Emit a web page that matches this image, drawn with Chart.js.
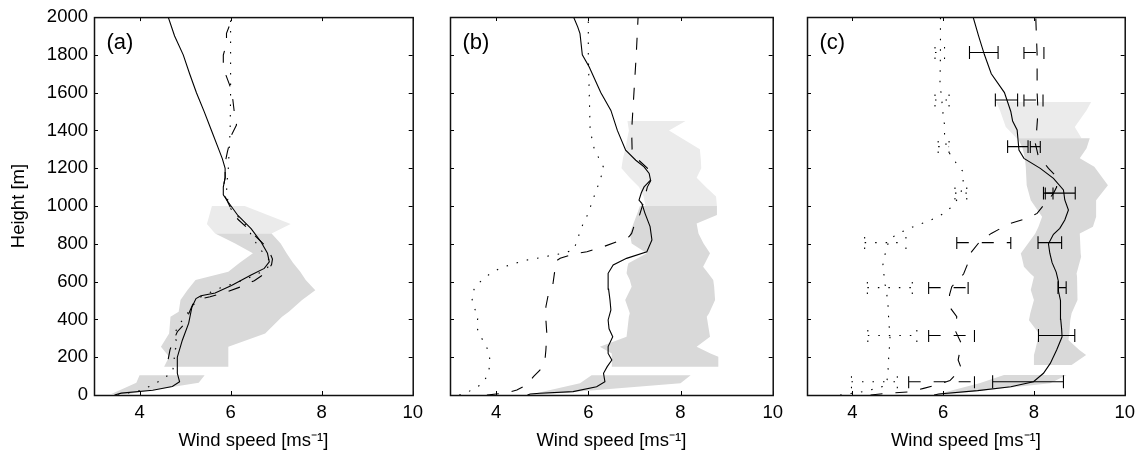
<!DOCTYPE html>
<html>
<head>
<meta charset="utf-8">
<script src="https://cdn.jsdelivr.net/npm/chart.js@4.4.0/dist/chart.umd.min.js"></script>
<style>
  html, body { margin: 0; padding: 0; background: #fff; }
  #wrap { position: relative; width: 1142px; height: 452px; }
  #wrap canvas { position: absolute; top: 0; }
</style>
</head>
<body>
<div id="wrap">
  <canvas id="pa" width="430" height="452" style="left:0px"></canvas>
  <canvas id="pb" width="360" height="452" style="left:430px"></canvas>
  <canvas id="pc" width="352" height="452" style="left:790px"></canvas>
</div>
<script>
// axes
const xTicks = [4, 6, 8, 10];
const yTicks = [0, 200, 400, 600, 800, 1000, 1200, 1400, 1600, 1800, 2000];

// ---- panel (a) ----
const aSolidH = [0, 10, 25, 45, 70, 115, 200, 290, 380, 465, 510, 525, 540, 580, 635, 670, 705, 750, 810, 880, 950, 1020, 1060, 1100, 1150, 1200, 1250, 1300, 1400, 1500, 1600, 1700, 1800, 1900, 2000];
const aSolidV = [3.45, 3.6, 4.29, 4.72, 4.88, 4.83, 4.83, 4.94, 5.08, 5.15, 5.24, 5.35, 5.66, 6.02, 6.45, 6.74, 6.85, 6.81, 6.67, 6.45, 6.16, 5.95, 5.84, 5.84, 5.88, 5.88, 5.82, 5.74, 5.58, 5.42, 5.25, 5.10, 4.96, 4.77, 4.63];
const aDotH = [0, 20, 50, 80, 120, 180, 230, 265, 310, 360, 405, 485, 520, 560, 590, 610, 630, 660, 700, 750, 800, 900, 1000, 1100, 1200, 1400, 1600, 1800, 2000];
const aDotV = [3.52, 3.96, 4.26, 4.48, 4.72, 4.77, 4.74, 4.86, 4.76, 4.83, 4.97, 5.21, 5.35, 5.70, 6.06, 6.31, 6.49, 6.76, 6.90, 6.72, 6.57, 6.33, 5.95, 5.91, 5.95, 5.99, 6.0, 6.0, 6.0];
const aDashH = [190, 240, 290, 335, 380, 430, 480, 505, 520, 540, 575, 605, 650, 690, 720, 760, 800, 840, 890, 930, 1000, 1060, 1100, 1150, 1230, 1287, 1376, 1429, 1499, 1561, 1640, 1729, 1799, 1861, 1914, 1970, 2000];
const aDashV = [4.63, 4.67, 4.75, 4.83, 5.0, 5.08, 5.17, 5.26, 5.55, 5.85, 6.25, 6.52, 6.8, 6.9, 6.92, 6.85, 6.72, 6.55, 6.34, 6.16, 5.98, 5.86, 5.84, 5.88, 5.88, 5.93, 6.02, 6.13, 6.08, 6.05, 5.98, 5.84, 5.84, 5.91, 5.91, 6.0, 6.0];
const aLowH = [5, 65, 105];
const aLowLo = [3.38, 3.93, 4.0];
const aLowHi = [3.75, 5.30, 5.43];
const aMidH = [150, 203, 256, 326, 414, 441, 503, 555, 608, 652, 700, 750, 802, 855];
const aMidLo = [4.54, 4.65, 4.47, 4.65, 4.68, 4.86, 4.90, 5.05, 5.23, 5.95, 6.2, 6.49, 6.1, 5.66];
const aMidHi = [5.95, 5.95, 5.95, 6.76, 7.13, 7.28, 7.57, 7.86, 7.65, 7.53, 7.37, 7.23, 7.10, 6.9];
const aTopH = [855, 905, 1000];
const aTopLo = [5.66, 5.48, 5.59];
const aTopHi = [6.9, 7.32, 6.31];

// ---- panel (b) ----
const bSolidH = [0, 5, 9, 18, 44, 70, 115, 150, 185, 220, 256, 308, 350, 397, 450, 503, 560, 644, 688, 723, 758, 820, 891, 961, 1014, 1031, 1070, 1101, 1137, 1172, 1207, 1242, 1295, 1400, 1506, 1600, 1735, 1800, 1912, 1948, 2000];
const bSolidV = [4.68, 4.74, 4.95, 5.67, 6.18, 6.36, 6.33, 6.41, 6.51, 6.43, 6.43, 6.53, 6.45, 6.43, 6.49, 6.47, 6.44, 6.43, 6.54, 6.83, 7.27, 7.38, 7.34, 7.23, 7.16, 7.10, 7.15, 7.21, 7.35, 7.32, 7.21, 7.03, 6.81, 6.63, 6.49, 6.27, 6.02, 5.87, 5.82, 5.77, 5.68];
const bDotH = [0, 12, 62, 115, 168, 220, 273, 317, 361, 423, 467, 520, 573, 614, 647, 670, 688, 705, 718, 728, 741, 750, 767, 811, 864, 908, 961, 1014, 1100, 1200, 1300, 1400, 1600, 1800, 2000];
const bDotV = [3.2, 3.36, 3.72, 3.83, 3.87, 3.85, 3.76, 3.64, 3.58, 3.61, 3.51, 3.47, 3.54, 3.72, 3.90, 4.08, 4.30, 4.52, 4.74, 4.99, 5.24, 5.46, 5.68, 5.75, 5.82, 5.89, 6.0, 6.07, 6.20, 6.34, 6.13, 6.04, 6.02, 6.0, 6.0];
const bDashH = [0, 5, 12, 26, 53, 97, 132, 185, 238, 326, 397, 467, 529, 582, 670, 705, 723, 746, 758, 785, 811, 837, 855, 908, 943, 1031, 1100, 1150, 1200, 1250, 1300, 1400, 1600, 1800, 2000];
const bDashV = [3.80, 4.0, 4.23, 4.45, 4.66, 4.81, 4.95, 5.06, 5.08, 5.10, 5.08, 5.08, 5.13, 5.23, 5.28, 5.28, 5.39, 5.67, 5.97, 6.33, 6.62, 6.88, 6.94, 7.01, 7.10, 7.21, 7.28, 7.39, 7.28, 7.06, 6.95, 6.94, 6.99, 7.04, 7.08];
const bLowH = [0, 62, 105];
const bLowLo = [4.7, 5.82, 6.07];
const bLowHi = [4.85, 8.0, 8.22];
const bMidH = [150, 203, 220, 255, 308, 414, 432, 503, 573, 608, 644, 679, 697, 750, 802, 855, 908, 952, 1000];
const bMidLo = [6.51, 6.51, 6.51, 6.25, 6.83, 6.88, 6.90, 6.80, 6.94, 6.90, 6.83, 6.85, 6.87, 7.27, 6.94, 6.90, 6.98, 7.05, 7.12];
const bMidHi = [8.82, 8.82, 8.65, 8.35, 8.64, 8.57, 8.62, 8.75, 8.73, 8.71, 8.6, 8.49, 8.53, 8.64, 8.5, 8.39, 8.35, 8.79, 8.79];
const bTopH = [1000, 1050, 1100, 1150, 1200, 1250, 1300, 1400, 1450];
const bTopLo = [7.24, 7.2, 7.1, 6.9, 6.72, 6.75, 6.80, 6.88, 6.85];
const bTopHi = [8.79, 8.77, 8.55, 8.35, 8.45, 8.44, 8.42, 7.75, 8.11];

// ---- panel (c) ----
const cSolidH = [0, 5, 23, 44, 70, 115, 167, 238, 308, 350, 400, 450, 500, 550, 600, 650, 700, 750, 800, 850, 882, 926, 979, 1032, 1085, 1146, 1199, 1252, 1296, 1402, 1450, 1500, 1600, 1700, 1800, 1900, 2000];
const cSolidV = [5.8, 5.9, 6.76, 7.49, 7.99, 8.21, 8.36, 8.50, 8.62, 8.61, 8.59, 8.59, 8.58, 8.54, 8.54, 8.49, 8.40, 8.35, 8.32, 8.43, 8.57, 8.68, 8.76, 8.68, 8.65, 8.43, 8.14, 7.78, 7.67, 7.63, 7.53, 7.49, 7.35, 7.06, 6.91, 6.78, 6.66];
const cDotH = [0, 20, 50, 100, 200, 300, 400, 500, 600, 700, 823, 855, 876, 899, 917, 940, 965, 1005, 1067, 1130, 1181, 1226, 1300, 1376, 1429, 1481, 1560, 1650, 1800, 2000];
const cDotV = [3.73, 4.3, 4.74, 4.78, 4.80, 4.83, 4.80, 4.78, 4.71, 4.67, 4.81, 5.01, 5.21, 5.42, 5.64, 5.86, 6.04, 6.23, 6.39, 6.44, 6.44, 6.29, 6.08, 6.03, 6.03, 6.0, 5.97, 5.93, 5.94, 5.94];
const cDashH = [0, 9, 17, 35, 57, 76, 141, 185, 273, 344, 414, 467, 530, 573, 640, 700, 750, 810, 855, 882, 908, 935, 961, 1000, 1032, 1067, 1100, 1155, 1199, 1270, 1332, 1400, 1500, 1600, 1800, 2000];
const cDashV = [4.4, 4.74, 5.28, 5.57, 5.9, 6.15, 6.40, 6.33, 6.40, 6.26, 6.30, 6.14, 6.14, 6.19, 6.45, 6.55, 6.60, 6.8, 7.06, 7.27, 7.49, 7.85, 8.07, 8.2, 8.32, 8.43, 8.5, 8.5, 8.32, 8.09, 8.03, 8.06, 8.09, 8.07, 8.07, 8.04];
const cErrH = [70, 315, 568, 806, 1068, 1314, 1561, 1812];
const cErrSolidLo = [7.09, 8.10, 8.53, 8.09, 8.21, 7.42, 7.15, 6.58];
const cErrSolidHi = [8.65, 8.90, 8.71, 8.61, 8.91, 7.87, 7.64, 7.21];
const cErrDashLo = [5.24, 5.68, 5.68, 6.30, 8.25, 7.92, 7.78, 7.78];
const cErrDashHi = [6.69, 6.69, 6.55, 7.49, 8.42, 8.14, 8.20, 8.22];
const cErrDotLo = [3.98, 4.34, 4.33, 4.27, 6.26, 5.89, 5.82, 5.82];
const cErrDotHi = [4.99, 5.42, 5.32, 5.18, 6.52, 6.13, 6.13, 6.03];
const cLowH = [0, 62, 106];
const cLowLo = [5.8, 6.8, 7.34];
const cLowHi = [5.95, 8.36, 8.72];
const cMidH = [159, 211, 238, 291, 326, 396, 432, 502, 555, 626, 643, 678, 731, 749, 855, 890, 943, 1031, 1110, 1208, 1252, 1305, 1358];
const cMidLo = [8.0, 8.0, 8.03, 8.08, 8.11, 7.89, 7.92, 8.0, 7.93, 8.0, 7.92, 7.78, 7.73, 7.71, 8.03, 8.1, 8.18, 7.93, 7.84, 7.82, 7.8, 7.75, 7.65];
const cMidHi = [8.83, 9.15, 9.0, 8.76, 8.78, 8.8, 8.83, 8.95, 8.97, 8.95, 8.94, 8.98, 9.04, 9.03, 9.01, 9.3, 9.37, 9.37, 9.63, 9.33, 9.01, 9.16, 9.23];
const cTopH = [1358, 1418, 1507, 1550];
const cTopLo = [7.62, 7.38, 7.25, 7.17];
const cTopHi = [9.05, 8.9, 9.16, 9.26];

// styles
const FONT = '"Liberation Sans", Arial, Helvetica, sans-serif';
const INK = '#000';
const DARK = '#d9d9d9';
const LIGHT = '#ebebeb';
const SOLID = [];
const DASH = [12, 13];
const DOT = [1.5, 9];
const CAP = 34;   // half height of error-bar caps, in metres

Chart.defaults.font.family = FONT;
Chart.defaults.font.size = 18.5;
Chart.defaults.color = INK;

const profile = (h, v) => h.map((y, i) => ({x: v[i], y}));
// closed outline: low edge going up, high edge coming back down
const band = (h, lo, hi) =>
  profile(h, lo).concat(profile(h, hi).reverse());

function errorBars(h, lo, hi) {
  const pts = [];
  h.forEach((y, i) => {
    pts.push({x: lo[i], y}, {x: hi[i], y}, {x: null, y: null});
    pts.push({x: lo[i], y: y - CAP}, {x: lo[i], y: y + CAP}, {x: null, y: null});
    pts.push({x: hi[i], y: y - CAP}, {x: hi[i], y: y + CAP}, {x: null, y: null});
  });
  return pts;
}

function lineDs(data, dash) {
  return {data, borderColor: INK, borderWidth: 1.1, borderDash: dash,
          pointRadius: 0, fill: false, tension: 0, spanGaps: false};
}
function shadeDs(data, color) {
  return {data, borderColor: 'rgba(0,0,0,0)', borderWidth: 0,
          backgroundColor: color, fill: 'shape', pointRadius: 0};
}

// box round the plot, inward ticks on all four sides, panel letter
function frame(label) {
  return {
    id: 'frame',
    afterDatasetsDraw(chart) {
      const {ctx, chartArea: a, scales: {x, y}} = chart;
      const L = 4;
      ctx.save();
      ctx.strokeStyle = INK;
      ctx.lineWidth = 1;
      ctx.beginPath();
      x.ticks.forEach(t => {
        const px = Math.round(x.getPixelForValue(t.value)) + 0.5;
        ctx.moveTo(px, a.bottom); ctx.lineTo(px, a.bottom - L);
        ctx.moveTo(px, a.top); ctx.lineTo(px, a.top + L);
      });
      y.ticks.forEach(t => {
        const py = Math.round(y.getPixelForValue(t.value)) + 0.5;
        ctx.moveTo(a.left, py); ctx.lineTo(a.left + L, py);
        ctx.moveTo(a.right, py); ctx.lineTo(a.right - L, py);
      });
      ctx.stroke();
      ctx.lineWidth = 1.5;
      ctx.strokeStyle = '#111';
      ctx.strokeRect(a.left + 0.5, a.top + 0.5, a.right - a.left, a.bottom - a.top);
      ctx.fillStyle = INK;
      ctx.font = '22px ' + FONT;
      ctx.textBaseline = 'alphabetic';
      ctx.fillText(label, a.left + 12.5, a.top + 32);
      ctx.restore();
    }
  };
}

function makePanel(id, label, axisW, padRight, showY, datasets) {
  return new Chart(document.getElementById(id), {
    type: 'line',
    data: {datasets},
    options: {
      responsive: false,
      animation: false,
      events: [],
      layout: {padding: {top: 17, right: padRight, left: 0, bottom: 0}},
      plugins: {legend: {display: false}, tooltip: {enabled: false}},
      scales: {
        x: {
          type: 'linear', min: 3, max: 10,
          grid: {display: false, drawTicks: false},
          border: {display: false},
          afterBuildTicks: s => { s.ticks = xTicks.map(v => ({value: v})); },
          afterFit: s => { s.height = 57; },
          ticks: {padding: 7, maxRotation: 0, autoSkip: false, callback: v => String(v)},
          title: {display: true, text: 'Wind speed [ms\u207B\u00B9]', padding: 0}
        },
        y: {
          type: 'linear', min: 0, max: 2000,
          grid: {display: false, drawTicks: false},
          border: {display: false},
          afterBuildTicks: s => { s.ticks = yTicks.map(v => ({value: v})); },
          afterFit: s => { s.width = axisW; },
          ticks: {display: showY, padding: 6, autoSkip: false, callback: v => String(v)},
          title: {display: showY, text: 'Height [m]', padding: {top: 8, bottom: 0}}
        }
      }
    },
    plugins: [frame(label)]
  });
}

// first dataset is drawn on top, so shading goes last
makePanel('pa', '(a)', 94, 13, true, [
  lineDs(profile(aSolidH, aSolidV), SOLID),
  lineDs(profile(aDashH, aDashV), DASH),
  lineDs(profile(aDotH, aDotV), DOT),
  shadeDs(band(aLowH, aLowLo, aLowHi), DARK),
  shadeDs(band(aMidH, aMidLo, aMidHi), DARK),
  shadeDs(band(aTopH, aTopLo, aTopHi), LIGHT)
]);

makePanel('pb', '(b)', 20, 17, false, [
  lineDs(profile(bSolidH, bSolidV), SOLID),
  lineDs(profile(bDashH, bDashV), DASH),
  lineDs(profile(bDotH, bDotV), DOT),
  shadeDs(band(bLowH, bLowLo, bLowHi), DARK),
  shadeDs(band(bMidH, bMidLo, bMidHi), DARK),
  shadeDs(band(bTopH, bTopLo, bTopHi), LIGHT)
]);

makePanel('pc', '(c)', 17, 13, false, [
  lineDs(profile(cSolidH, cSolidV), SOLID),
  lineDs(profile(cDashH, cDashV), DASH),
  lineDs(profile(cDotH, cDotV), DOT),
  lineDs(errorBars(cErrH, cErrSolidLo, cErrSolidHi), SOLID),
  lineDs(errorBars(cErrH, cErrDashLo, cErrDashHi), DASH),
  lineDs(errorBars(cErrH, cErrDotLo, cErrDotHi), DOT),
  shadeDs(band(cLowH, cLowLo, cLowHi), DARK),
  shadeDs(band(cMidH, cMidLo, cMidHi), DARK),
  shadeDs(band(cTopH, cTopLo, cTopHi), LIGHT)
]);
</script>
</body>
</html>
